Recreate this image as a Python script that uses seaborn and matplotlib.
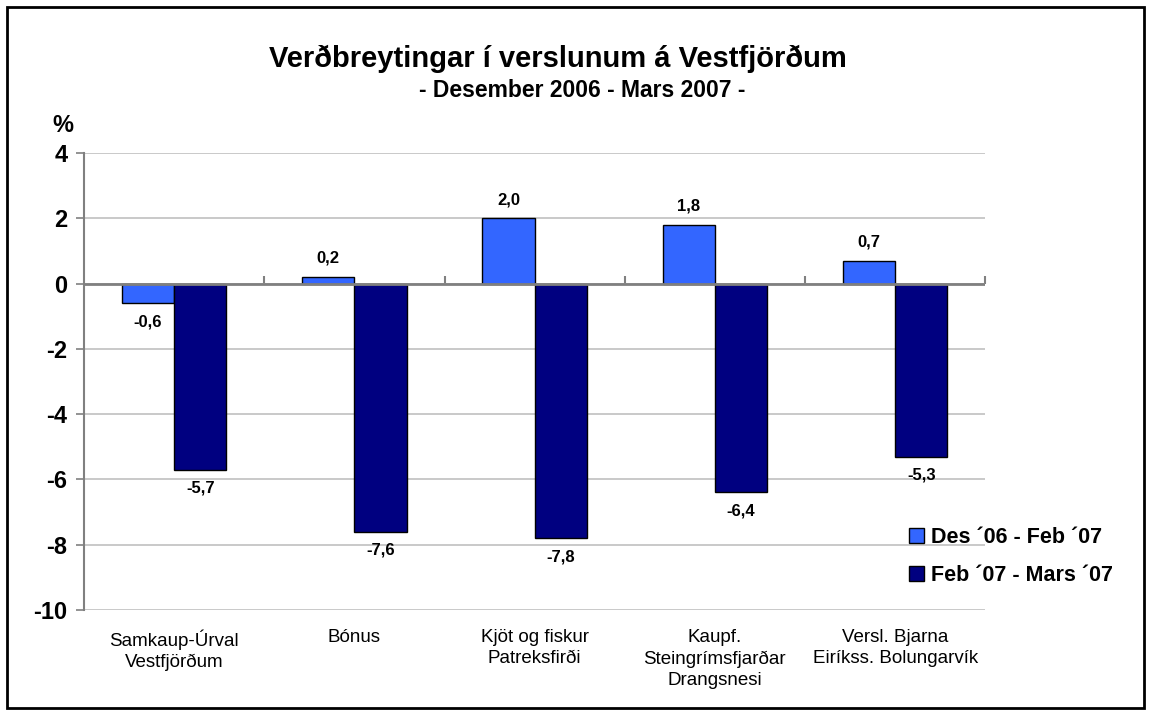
import matplotlib

matplotlib.use("Agg")
import matplotlib.pyplot as plt
import pandas as pd
import seaborn as sns
from matplotlib.patches import Rectangle

# データ
stores = [
    "Samkaup-Úrval\nVestfjörðum",
    "Bónus",
    "Kjöt og fiskur\nPatreksfirði",
    "Kaupf.\nSteingrímsfjarðar\nDrangsnesi",
    "Versl. Bjarna\nEiríkss. Bolungarvík",
]
series_names = ["Des ´06 - Feb ´07", "Feb ´07 - Mars ´07"]
des_feb = [-0.6, 0.2, 2.0, 1.8, 0.7]
feb_mars = [-5.7, -7.6, -7.8, -6.4, -5.3]
yticks = [4, 2, 0, -2, -4, -6, -8, -10]
colors = ["#3366FF", "#000080"]

df = pd.DataFrame({
    "store": stores * 2,
    "period": [series_names[0]] * len(stores) + [series_names[1]] * len(stores),
    "value": des_feb + feb_mars,
})

sns.set_theme(style="white")
plt.rcParams["font.family"] = ["Liberation Sans", "DejaVu Sans"]
plt.rcParams["axes.unicode_minus"] = False
plt.rcParams["text.color"] = "black"
plt.rcParams["xtick.labelcolor"] = "black"
plt.rcParams["ytick.labelcolor"] = "black"

fig = plt.figure(figsize=(11.51, 7.15), dpi=100)
ax = fig.add_axes([0.073, 0.147, 0.783, 0.639])

sns.barplot(data=df, x="store", y="value", hue="period", palette=colors,
            width=0.58, edgecolor="black", linewidth=1, saturation=1, ax=ax)

ax.set_ylim(-10, 4)
ax.set_xlim(-0.5, len(stores) - 0.5)
ax.set_yticks(yticks)
ax.set_yticklabels([str(t) for t in yticks], fontsize=17, fontweight="bold")
ax.yaxis.grid(True, color="#C0C0C0", linewidth=1.2)
ax.set_axisbelow(True)
ax.set_xlabel("")
ax.set_ylabel("")
ax.tick_params(axis="y", left=True, length=6, color="#808080", width=1.2, pad=6)
ax.tick_params(axis="x", bottom=False, length=0, pad=14, labelsize=13.5)
for lbl in ax.get_xticklabels():
    lbl.set_linespacing(1.3)

for s in ["top", "right", "bottom"]:
    ax.spines[s].set_visible(False)
ax.spines["left"].set_color("#808080")
ax.spines["left"].set_linewidth(1.5)

# ゼロ線と区切り目盛
ax.axhline(0, color="#808080", linewidth=2, zorder=1)
zero_pos = (0 - (-10)) / 14
sec = ax.secondary_xaxis(zero_pos)
sec.set_xticks([i + 0.5 for i in range(len(stores) - 1)] + [len(stores) - 0.5])
sec.set_xticklabels([])
sec.tick_params(length=6, color="#808080", width=1.5, direction="out")
sec.spines["bottom"].set_visible(False)
sec.spines["top"].set_visible(False)

# データラベル
for container in ax.containers:
    labels = [f"{b.get_height():.1f}".replace(".", ",") for b in container]
    ax.bar_label(container, labels=labels, padding=8, fontsize=12, fontweight="bold")

ax.text(-0.0355, 1.035, "%", transform=ax.transAxes, fontsize=17, fontweight="bold",
        ha="left", va="bottom")

fig.text(0.485, 0.918, "Verðbreytingar í verslunum á Vestfjörðum", ha="center",
         va="center", fontsize=21, fontweight="bold")
fig.text(0.506, 0.873, "- Desember 2006 - Mars 2007 -", ha="center",
         va="center", fontsize=16.5, fontweight="bold")

leg = ax.legend(loc="center left", bbox_to_anchor=(0.894, 0.117), frameon=False,
                prop={"size": 15.5, "weight": "bold"}, handlelength=0.7, handleheight=0.7,
                handletextpad=0.3, labelspacing=0.8)

# 外枠
fig.patches.append(Rectangle((0.006, 0.01), 0.988, 0.98, transform=fig.transFigure,
                             fill=False, edgecolor="black", linewidth=2))

plt.savefig("out.png", dpi=100)
plt.close()
